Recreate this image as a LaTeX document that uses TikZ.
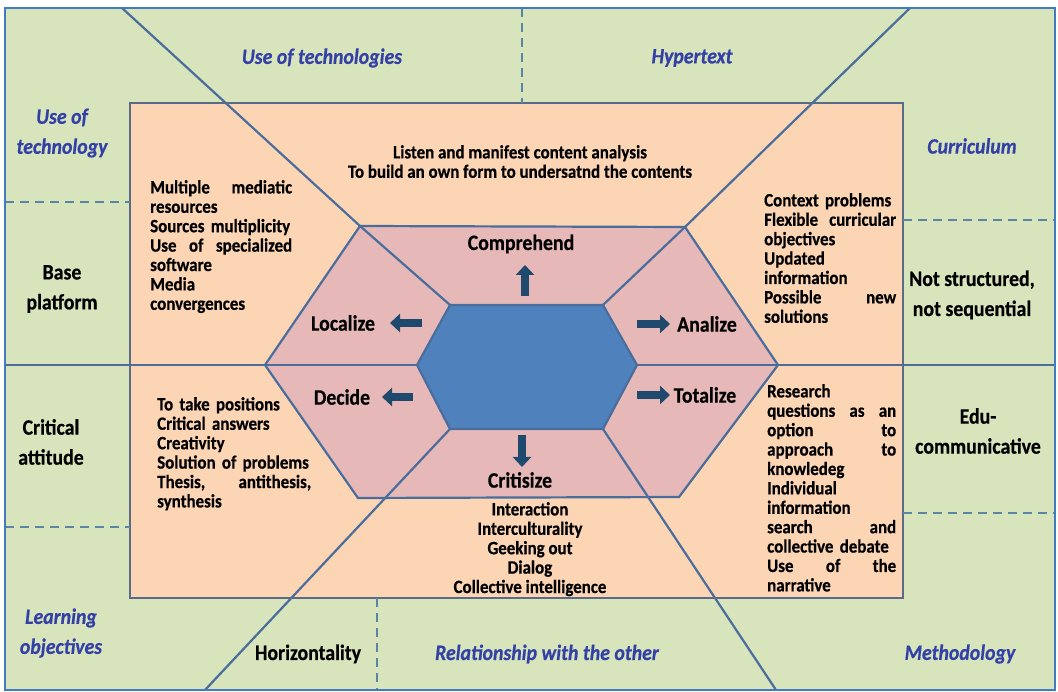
\documentclass[tikz,border=0pt]{standalone}
\usepackage{fontspec}
\setmainfont{Carlito}[BoldFeatures={FakeStretch=0.9,FakeBold=0.5},
  BoldItalicFeatures={FakeStretch=0.9,FakeBold=0.5}]
\usetikzlibrary{arrows.meta}
\definecolor{bggreen}{HTML}{D8E4BC}
\definecolor{peach}{HTML}{FCD5B5}
\definecolor{hexpink}{HTML}{E6B9B8}
\definecolor{hexblue}{HTML}{4F81BD}
\definecolor{linec}{HTML}{4A6D9C}
\definecolor{framec}{HTML}{3F7CC0}
\definecolor{boxc}{HTML}{5A6B88}
\definecolor{dashc}{HTML}{5A86A6}
\definecolor{labc}{HTML}{3341A6}
\definecolor{arrc}{HTML}{1F4A6E}

\begin{document}
\begin{tikzpicture}[x=1pt, y=-1pt,
  every node/.style={inner sep=0pt, font=\bfseries},
  lst/.style={anchor=north west, align=left, font=\fontsize{18.8}{19.4}\selectfont\bfseries},
  tag/.style={align=center, font=\fontsize{22}{30}\selectfont\bfseries},
  ttl/.style={align=center, text=labc, font=\fontsize{22}{30}\selectfont\bfseries\itshape},
  act/.style={font=\fontsize{22}{24}\selectfont\bfseries},
  arr/.style={draw=arrc, line width=8pt, -{Triangle[width=18pt,length=10pt]}},
  sep/.style={draw=dashc, line width=2.5pt, dash pattern=on 9pt off 6pt},
  spoke/.style={draw=linec, line width=2.2pt}]
  \fill[white] (0,0) rectangle (1058,692);
  \useasboundingbox (0,0) rectangle (1058,692);
  % frame and box
  \coordinate (f1) at (5,8);     \coordinate (f2) at (1055,690);
  \coordinate (p1) at (130,103); \coordinate (p2) at (903,598);
  \fill[bggreen] (f1) rectangle (f2);
  \fill[peach] (p1) rectangle (p2);
  % spoke ends
  \coordinate (t1) at (122,8);  \coordinate (t2) at (910,8);
  \coordinate (b1) at (205,690); \coordinate (b2) at (776,690);
  \coordinate (m1) at (5,365);  \coordinate (m2) at (1055,365);
  % hexagons
  \coordinate (o1) at (360,226); \coordinate (o2) at (685,227);
  \coordinate (o3) at (778,365); \coordinate (o4) at (679,497);
  \coordinate (o5) at (358,498); \coordinate (o6) at (265,365);
  \coordinate (i1) at (450,305); \coordinate (i2) at (603,305);
  \coordinate (i3) at (637,365); \coordinate (i4) at (603,429);
  \coordinate (i5) at (450,429); \coordinate (i6) at (417,365);
  \filldraw[fill=hexpink, draw=linec, line width=2.2pt]
    (o1) -- (o2) -- (o3) -- (o4) -- (o5) -- (o6) -- cycle;
  \draw[spoke] (t1) -- (o1) -- (i1);
  \draw[spoke] (t2) -- (o2) -- (i2);
  \draw[spoke] (b1) -- (i5);
  \draw[spoke] (b2) -- (i4);
  \draw[spoke] (m1) -- (o6) -- (i6);
  \draw[spoke] (i3) -- (o3) -- (m2);
  \filldraw[fill=hexblue, draw=linec, line width=2.2pt]
    (i1) -- (i2) -- (i3) -- (i4) -- (i5) -- (i6) -- cycle;
  \draw[boxc, line width=2.5pt] (p1) rectangle (p2);
  % dashed dividers
  \draw[sep] (5,202) -- (130,202);
  \draw[sep] (5,527) -- (130,527);
  \draw[sep] (903,220) -- (1055,220);
  \draw[sep] (903,513) -- (1055,513);
  \draw[sep] (522,8) -- (522,103);
  \draw[sep] (377,598) -- (377,690);
  \draw[framec, line width=2.5pt] (f1) rectangle (f2);
  % outer labels
  \node[ttl] (tech) at (322,58) {Use of technologies};
  \node[ttl] (hyper) at (692,58) {Hypertext};
  \node[ttl] (useof) at (62,133) {Use of\\technology};
  \node[ttl] (curr) at (972,146) {Curriculum};
  \node[tag] (base) at (62,289) {Base\\platform};
  \node[tag] (notstr) at (972,295) {Not structured,\\not sequential};
  \node[tag] (crit) at (51,442) {Critical\\attitude};
  \node[tag] (edu) at (978,431) {Edu-\\communicative};
  \node[ttl] (learn) at (61,633) {Learning\\objectives};
  \node[tag] (horiz) at (308,654) {Horizontality};
  \node[ttl] (relat) at (547,654) {Relationship with the other};
  \node[ttl] (method) at (960,654) {Methodology};
  % lists
  \node[lst, anchor=north, align=center] (listen) at (520,145)
    {Listen and manifest content analysis\\To build an own form to undersatnd the contents};
  \node[lst, text width=142pt] (media) at (150,180)
    {Multiple\hfill mediatic\\resources\\Sources multiplicity\\Use\hfill of\hfill specialized\\software\\Media\\convergences};
  \node[lst, text width=132pt] (ctx) at (764,193)
    {Context problems\\Flexible\hfill curricular\\objectives\\Updated\\information\\Possible\hfill new\\solutions};
  \node[lst, text width=154pt] (posit) at (157,397)
    {To take positions\\Critical answers\\Creativity\\Solution of problems\\Thesis,\hfill antithesis,\\synthesis};
  \node[lst, text width=129pt] (resrch) at (767,384)
    {Research\\questions\hfill as\hfill an\\option\hfill to\\approach\hfill to\\knowledeg\\Individual\\information\\search\hfill and\\collective debate\\Use\hfill of\hfill the\\narrative};
  \node[lst, anchor=north, align=center] (inter) at (530,502)
    {Interaction\\Interculturality\\Geeking out\\Dialog\\Collective intelligence};
  % hexagon actions
  \node[act] (comp) at (521,244) {Comprehend};
  \node[act] (loc) at (343,323) {Localize};
  \node[act] (ana) at (707,324) {Analize};
  \node[act] (dec) at (342,397) {Decide};
  \node[act] (tot) at (705,395) {Totalize};
  \node[act] (cri) at (520,480) {Critisize};
  \draw[arr] (525,296) -- (525,265);
  \draw[arr] (422,323) -- (390,323);
  \draw[arr] (413,397) -- (382,397);
  \draw[arr] (637,324) -- (670,324);
  \draw[arr] (637,395) -- (670,395);
  \draw[arr] (522,435) -- (522,467);
\end{tikzpicture}
\end{document}
